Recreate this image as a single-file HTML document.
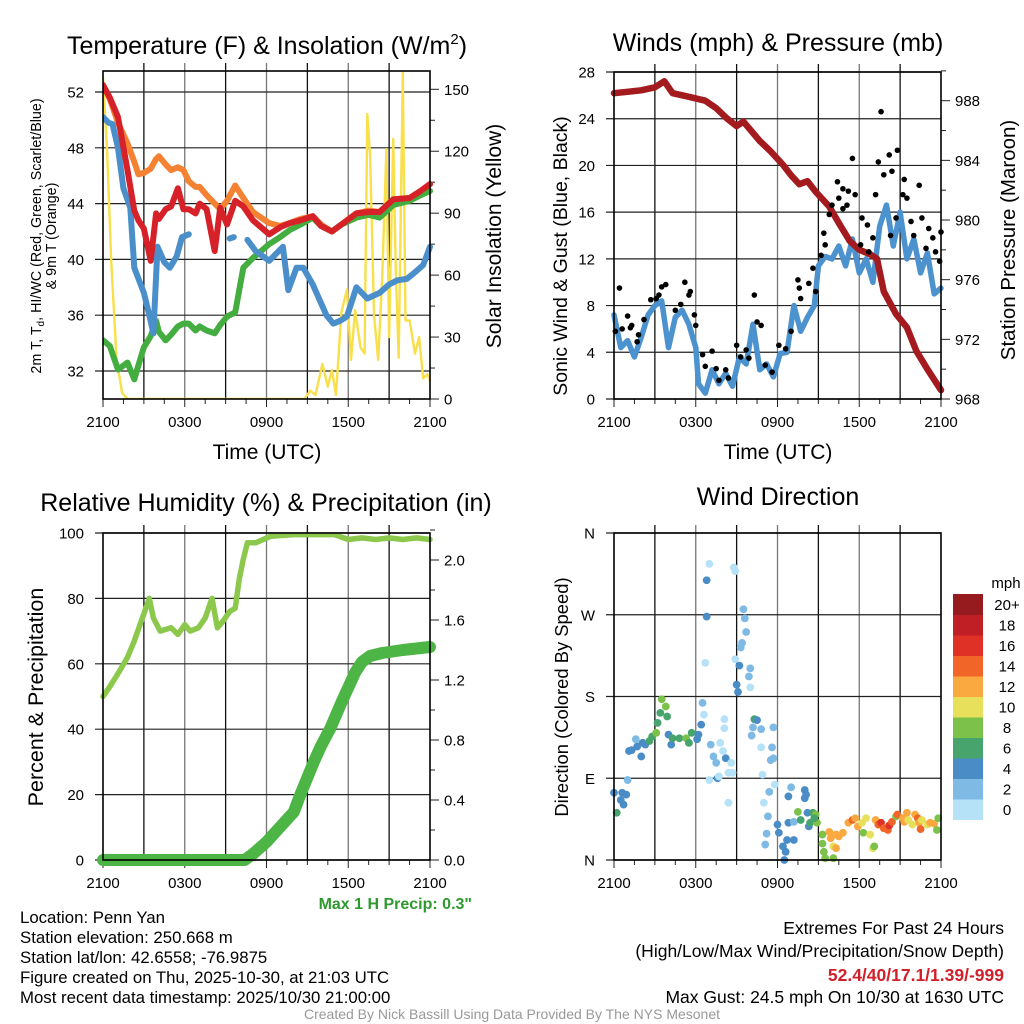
<!DOCTYPE html>
<html><head><meta charset="utf-8"><style>
html,body{margin:0;padding:0;background:#fff}
svg{display:block;font-family:"Liberation Sans",Arial,sans-serif}
</style></head><body>
<svg id="fig" width="1024" height="1024" viewBox="0 0 1024 1024" xmlns="http://www.w3.org/2000/svg">
<rect width="1024" height="1024" fill="#fff"/>
<g id="p1"></g>
<g id="p2"></g>
<g id="p3"></g>
<g id="p4"></g>

<text x="267" y="54" font-size="25" text-anchor="middle">Temperature (F) &amp; Insolation (W/m<tspan dy="-10" font-size="15">2</tspan><tspan dy="10">)</tspan></text>
<text x="778" y="51" font-size="25" text-anchor="middle">Winds (mph) &amp; Pressure (mb)</text>
<text x="266" y="511" font-size="25" text-anchor="middle">Relative Humidity (%) &amp; Precipitation (in)</text>
<text x="778" y="505" font-size="25" text-anchor="middle">Wind Direction</text>

<text x="267" y="459" font-size="21" text-anchor="middle">Time (UTC)</text>
<text x="778" y="459" font-size="21" text-anchor="middle">Time (UTC)</text>

<text transform="translate(41,236) rotate(-90)" font-size="14.3" text-anchor="middle">2m T, T<tspan dy="3" font-size="10">d</tspan><tspan dy="-3">, HI/WC (Red, Green, Scarlet/Blue)</tspan></text>
<text transform="translate(56,236) rotate(-90)" font-size="14.3" text-anchor="middle">&amp; 9m T (Orange)</text>
<text transform="translate(501,236) rotate(-90)" font-size="21" text-anchor="middle">Solar Insolation (Yellow)</text>
<text transform="translate(567,256) rotate(-90)" font-size="19.5" text-anchor="middle">Sonic Wind &amp; Gust (Blue, Black)</text>
<text transform="translate(1015,240) rotate(-90)" font-size="20.5" text-anchor="middle">Station Pressure (Maroon)</text>
<text transform="translate(43,697) rotate(-90)" font-size="21.5" text-anchor="middle">Percent &amp; Precipitation</text>
<text transform="translate(568,697) rotate(-90)" font-size="18.4" text-anchor="middle">Direction (Colored By Speed)</text>

<text x="472" y="909" font-size="16" font-weight="bold" fill="#2e9a2e" text-anchor="end">Max 1 H Precip: 0.3"</text>
<g font-size="16.8">
<text x="20" y="923">Location: Penn Yan</text>
<text x="20" y="943">Station elevation: 250.668 m</text>
<text x="20" y="963">Station lat/lon: 42.6558; -76.9875</text>
<text x="20" y="983">Figure created on Thu, 2025-10-30, at 21:03 UTC</text>
<text x="20" y="1003">Most recent data timestamp: 2025/10/30 21:00:00</text>
</g>
<g font-size="17.5" text-anchor="end">
<text x="1004" y="934">Extremes For Past 24 Hours</text>
<text x="1004" y="957">(High/Low/Max Wind/Precipitation/Snow Depth)</text>
<text x="1004" y="981" font-weight="bold" fill="#d0202a">52.4/40/17.1/1.39/-999</text>
<text x="1004" y="1003">Max Gust: 24.5 mph On 10/30 at 1630 UTC</text>
</g>
<text x="512" y="1019" font-size="14" fill="#999" text-anchor="middle">Created By Nick Bassill Using Data Provided By The NYS Mesonet</text>
</svg>
<script>
// ---------- data ----------
const xTickLabels = ["2100","0300","0900","1500","2100"];
// Panel 1: temperature (hours since 2100 UTC)
const tempHours = [0,0.5,1.1,1.8,2.3,2.6,3.0,3.5,3.9,4.1,4.6,5.0,5.5,5.9,6.3,6.8,7.1,7.6,8.2,8.6,9.1,9.7,10.3,11,12.2,13,13.7,14.5,15.4,16,16.8,17.5,18.6,19.5,20.3,21.3,22.5,23.3,24];
const orangeT = [52.5,51.5,49.8,48.3,47,46.1,46.2,46.5,47.2,47.4,46.8,46.4,46.6,46.4,45.6,45.2,45.2,44.6,44.0,43.6,44.2,45.3,44.4,43.4,42.6,42.4,42.6,42.9,43.1,42.5,42.0,42.5,43.3,43.5,43.4,44.3,44.4,44.9,45.4];
const redT = [52.5,51.6,50.2,46.4,43.5,42.8,42.2,39.9,43.3,42.9,43.6,43.8,45.1,43.6,43.6,43.3,44.0,43.6,40.6,43.7,42.5,44.2,43.8,42.8,41.8,42.3,42.6,42.8,43.1,42.4,42.0,42.5,43.3,43.4,43.4,44.3,44.4,44.9,45.4];
const greenT = [34.2,33.8,32.1,32.6,31.4,32.4,33.7,34.5,35.6,34.8,34.2,34.6,35.2,35.4,35.4,34.9,35.2,34.9,34.7,35.3,35.9,36.2,39.4,40.1,41.1,41.6,42.1,42.5,43.0,42.4,42.0,42.5,43.0,43.2,43.0,43.9,44.2,44.6,44.9];
const blueHours = [0,0.4,0.7,1.1,1.5,2,2.3,3,3.4,3.7,4.0,4.5,4.9,5.4,5.8,6.3,null,9.3,9.6,null,10.6,11.2,12.2,13.2,13.6,14.2,14.7,15.4,15.9,16.4,16.9,17.4,17.9,18.6,19.4,20.3,21,21.6,22.3,22.8,23.5,24];
const blueT = [50.2,49.8,49.7,48.0,45.1,43.7,39.4,37.6,36.0,34.7,40.9,39.8,39.4,40.2,41.6,41.8,null,41.5,41.6,null,41.4,40.6,39.9,40.9,37.8,39.4,39.4,38.2,37.1,36.0,35.4,35.6,35.9,38.0,37.2,37.6,38.2,38.5,38.6,39.0,39.6,40.9];
const insolHours = [0,0.3,0.6,1,1.4,1.8,14.8,15.2,15.6,16.1,16.5,16.8,17.1,17.5,17.9,18.2,18.5,18.9,19.2,19.4,19.6,19.9,20.2,20.5,20.8,21.0,21.3,21.5,21.7,22.0,22.2,22.5,22.9,23.2,23.5,23.8,24];
const insolVals = [156,120,67,19,3,0,0,4,2,17,6,14,2,42,53,19,43,25,22,138,118,40,19,60,121,30,126,60,20,158,38,38,22,30,10,12,9];
// Panel 2: winds & pressure
const windHours = [0,0.5,1,1.5,2,2.5,3,3.5,4,4.5,5,5.5,6,6.2,6.7,7.2,7.7,8.2,8.7,9.2,9.7,10.2,10.7,11.2,11.7,12.2,12.7,13.2,13.7,14.2,14.7,15,15.5,16,16.5,17,17.5,18,18.5,19,19.5,20,20.5,21,21.5,22,22.5,23,23.5,24];
const windSpd = [7.2,4.4,5.0,3.6,5.3,7.2,8.0,8.4,4.4,7.0,7.6,6.4,4.4,1.3,0.5,2.5,1.3,2.2,1.1,3.6,3.0,6.4,2.5,3.0,1.9,3.9,4.0,8.0,5.8,7.0,8.0,11.4,12.2,12.0,13.1,11.4,13.7,10.8,12.0,10.0,14.8,16.6,13.1,16.0,12.0,13.7,10.8,12.5,9.0,9.5];
const gustHours = [0.4,0.1,0.6,1.0,1.2,1.3,1.8,1.7,2.2,2.7,3.1,3.5,3.8,3.3,4.5,4.9,5.2,5.5,5.6,5.9,6.0,6.5,6.7,7.2,7.5,7.7,8.2,8.4,9.0,9.3,9.7,9.9,10.3,10.5,10.8,11.1,11.6,12.1,12.6,13.0,13.5,13.6,13.7,14.3,14.8,15.2,15.4,15.8,16.0,16.4,16.8,17.2,17.5,17.7,17.1,18.2,18.6,19.0,19.2,19.4,19.6,19.8,20.2,20.4,20.8,20.7,21.2,21.3,21.5,21.8,22.0,22.4,22.6,22.9,23.1,23.4,23.6,24.0,23.9,20.3,18.7,18.1,16.5,16.8,15.5,14.6];
const gustSpd = [9.5,5.8,6.0,7.1,6.1,6.3,5.5,4.9,6.8,8.5,8.6,9.6,9.8,8.9,7.6,8.1,10.0,8.9,9.2,7.2,6.3,3.8,2.8,4.1,2.6,1.6,2.5,1.8,4.6,3.6,4.2,3.5,8.9,6.6,6.3,2.9,2.3,4.6,4.3,5.8,10.2,9.5,8.6,9.9,9.2,12.3,14.2,15.8,16.6,18.6,18.0,17.8,20.6,17.5,16.6,15.5,14.9,13.8,17.5,20.3,24.6,19.2,20.9,19.5,21.3,15.5,17.5,18.8,17.2,15.2,14.0,18.3,15.5,12.9,14.6,13.8,12.6,14.3,11.8,14.0,12.6,13.2,17.2,16.3,13.2,11.2];
const presHours = [0,1,2,3,3.7,4.3,5.3,6.7,7.5,8.3,9.0,9.5,10.7,11.5,12.4,13.0,13.6,14.2,14.8,15.8,16.5,17.3,18.0,18.8,19.3,19.8,20.7,21.5,22.2,23.0,24];
const presVals = [988.5,988.6,988.7,988.9,989.3,988.5,988.3,988.0,987.5,986.8,986.3,986.6,985.3,984.6,983.7,983.0,982.4,982.6,981.9,980.9,979.8,978.6,978.0,977.7,977.4,975.2,973.7,972.8,971.2,970.0,968.6];
// Panel 3: RH & precip
const rhHours = [0,0.5,1.25,1.8,2.3,2.8,3.4,3.7,4.2,5,5.5,6,6.4,7,7.5,8,8.4,8.8,9.3,9.7,10,10.3,10.6,11.2,12.3,14,16,17,18,19,20,21,22,23,24];
const rhVals = [50,53,58,62,67,73,80,74,70,71,69,72,70,71,74,80,71,73,76,77,86,92,97,97,99,99.5,99.5,99.5,98,98.5,98,98.5,98,98.5,98];
const pcpHours = [0,5,8,10.4,11,11.5,12,13,14,14.5,15,15.5,16,16.7,17.5,18,18.5,19,19.6,20.5,22,24];
const pcpVals = [0,0,0,0,0.04,0.08,0.12,0.22,0.32,0.44,0.55,0.66,0.76,0.88,1.05,1.15,1.25,1.32,1.36,1.38,1.40,1.42];
// Panel 4: direction
const dirHours = [0.0,0.2,0.5,0.7,0.6,0.9,1.0,1.1,1.3,1.7,2.1,2.3,2.0,1.6,2.6,2.8,3.1,3.2,3.4,3.5,3.8,3.9,4.0,4.2,4.3,4.8,5.3,5.5,5.7,6.1,6.2,6.4,6.6,6.5,6.7,6.8,6.8,7.0,7.1,7.3,7.5,7.6,7.0,7.7,7.8,8.0,8.1,8.1,8.2,8.4,8.7,8.4,8.6,8.8,8.9,8.9,9.0,9.1,9.2,9.3,9.4,9.5,9.6,9.7,9.9,10.0,10.0,10.3,10.5,10.2,10.8,10.1,11.7,10.8,11.6,11.5,11.7,10.9,11.8,11.4,11.0,11.3,11.2,11.1,12.0,12.1,12.4,12.6,12.5,12.7,13.2,12.8,13.0,12.8,14.0,14.1,14.0,14.2,14.3,13.2,13.5,13.7,14.6,14.8,14.4,14.9,14.7,15.3,15.4,15.5,16.1,15.3,15.8,15.9,16.3,16.5,16.8,17.2,17.5,17.9,17.7,18.2,18.5,18.3,18.8,19.0,19.1,19.2,19.4,19.6,19.8,20.1,20.2,20.4,20.7,20.8,21.2,21.3,21.5,21.6,21.9,22.1,22.3,22.4,22.5,22.6,23.0,23.2,23.5,23.7,23.8,16.1,16.3];
const dirVals = [74,52,66,61,74,72,88,120,121,125,129,127,114,133,131,136,140,151,162,177,169,158,138,127,134,134,134,129,140,133,138,149,160,173,217,268,308,326,127,114,107,90,88,92,129,120,155,145,112,96,96,63,107,322,318,221,193,185,214,234,239,276,266,251,202,211,190,155,154,146,144,137,146,124,124,110,112,94,83,75,63,48,29,17,39,30,15,9,0,22,22,41,80,70,77,72,68,52,37,42,53,44,52,50,41,41,46,28,9,2,2,18,31,24,28,26,30,41,44,37,46,41,46,30,28,13,15,44,39,41,35,33,38,42,48,50,46,42,52,44,39,50,46,41,34,44,39,41,40,33,46,15,13];
const dirSpeeds = [4,6,4,4,4,4,2,4,4,4,4,4,4,2,6,6,8,6,6,8,8,6,4,4,6,6,8,6,6,4,4,4,0,2,0,4,4,0,2,2,2,4,0,0,0,0,0,0,4,0,0,0,0,0,0,0,4,4,4,2,2,2,2,2,2,2,0,6,4,2,2,2,2,0,2,2,2,0,0,2,0,2,2,2,4,4,4,4,4,4,4,4,2,4,4,4,4,4,4,2,8,6,6,8,6,8,6,8,8,8,8,8,12,12,12,12,12,12,14,12,12,10,10,8,10,10,8,12,14,16,14,14,16,14,8,14,12,12,12,10,10,12,14,12,14,10,10,12,12,8,8,10,12];
const speedBins = [0,2,4,6,8,10,12,14,16,18,20];
const speedLabels = ["0","2","4","6","8","10","12","14","16","18","20+"];
const speedColors = ["#b5e2f7","#7ebae4","#4a8dc6","#47a46c","#7cc24a","#e6e05a","#f9a940","#f26528","#e03127","#c11f26","#961b1e"];

// ---------- helpers ----------
const NS="http://www.w3.org/2000/svg";
function mk(parent,tag,attrs){const e=document.createElementNS(NS,tag);for(const k in attrs)e.setAttribute(k,attrs[k]);parent.appendChild(e);return e;}
function lin(d0,d1,r0,r1){return v=>r0+(v-d0)*(r1-r0)/(d1-d0);}
function pathFrom(xs,ys,sx,sy){let d="",pen=false;for(let i=0;i<xs.length;i++){if(xs[i]===null||ys[i]===null){pen=false;continue;}d+=(pen?"L":"M")+sx(xs[i]).toFixed(1)+","+sy(ys[i]).toFixed(1);pen=true;}return d;}

function frame(g,L,T,R,B,yTicksL,syL,fmtL,yTicksR,syR,fmtR,minorR,namePrefix){
  const sx=lin(0,24,L,R);
  for(let h=3;h<24;h+=3){const x=sx(h);const l=mk(g,"line",{x1:x,x2:x,y1:T-8,y2:B,stroke:(h%6===0)?"#777":"#111","stroke-width":1.3});
    
    }
  for(let h=0;h<=24;h+=1.5){const x=sx(h);mk(g,"line",{x1:x,x2:x,y1:B,y2:B+(h%6===0?8:5),stroke:"#222","stroke-width":1});}
  yTicksL.forEach(v=>{const y=syL(v);const l=mk(g,"line",{x1:L-8,x2:R,y1:y,y2:y,stroke:"#222","stroke-width":1.2});
    
    
    const t=mk(g,"text",{x:L-19,y:y+5.5,"font-size":15,"text-anchor":"end"});t.textContent=fmtL(v);
    
    });
  if(yTicksR){yTicksR.forEach(v=>{const y=syR(v);mk(g,"line",{x1:R,x2:R+9,y1:y,y2:y,stroke:"#222","stroke-width":1});
    const t=mk(g,"text",{x:R+14,y:y+5.5,"font-size":15});t.textContent=fmtR(v);
    
    });
    minorR.forEach(v=>{const y=syR(v);mk(g,"line",{x1:R,x2:R+5,y1:y,y2:y,stroke:"#222","stroke-width":1});});}
  xTickLabels.forEach((s,i)=>{const t=mk(g,"text",{x:sx(i*6),y:B+28,"font-size":15,"text-anchor":"middle"});t.textContent=s;
    
    });
  return sx;
}
function border(g,L,T,R,B,name){const r=mk(g,"rect",{x:L,y:T,width:R-L,height:B-T,fill:"none",stroke:"#000","stroke-width":1.6});
  
  }
function line(g,xs,ys,sx,sy,color,w,name){const p=mk(g,"path",{d:pathFrom(xs,ys,sx,sy),fill:"none",stroke:color,"stroke-width":w,"stroke-linejoin":"round","stroke-linecap":"round"});
  
  return p;}

// ---------- panel 1 ----------
(function(){const g=document.getElementById("p1");const L=103,T=71,R=430,B=399;
  const syT=lin(32,52,371,92), syS=lin(0,150,399,89.3);
  const sx=frame(g,L,T,R,B,[32,36,40,44,48,52],syT,v=>v,[0,30,60,90,120,150],syS,v=>v,[15,45,75,105,135],"temp");
  const clip=mk(g,"clipPath",{id:"c1"});mk(clip,"rect",{x:L,y:T-4,width:R-L+4,height:B-T+4});
  const d=mk(g,"g",{"clip-path":"url(#c1)"});
  line(d,insolHours,insolVals,sx,syS,"#f9df4a",2.4,"insolation-line");
  line(d,tempHours,orangeT,sx,syT,"#f58233",6,"temp-9m-orange-line");
  line(d,tempHours,greenT,sx,syT,"#44ad3f",6,"dewpoint-green-line");
  line(d,blueHours,blueT,sx,syT,"#4a8fc9",6,"windchill-blue-line");
  line(d,tempHours,redT,sx,syT,"#d62128",6,"temp-2m-red-line");
  border(g,L,T,R,B,"temperature-plot-area");})();

// ---------- panel 2 ----------
(function(){const g=document.getElementById("p2");const L=614,T=72,R=941,B=399;
  const syW=lin(0,28,399,72), syP=lin(968,988,399,100.7);
  const sx=frame(g,L,T,R,B,[0,4,8,12,16,20,24,28],syW,v=>v,[968,972,976,980,984,988],syP,v=>v,[970,974,978,982,986,990],"wind");
  const clip=mk(g,"clipPath",{id:"c2"});mk(clip,"rect",{x:L-4,y:T,width:R-L+8,height:B-T+4});
  const d=mk(g,"g",{"clip-path":"url(#c2)"});
  line(d,windHours,windSpd,sx,syW,"#4b92cf",5.5,"sonic-wind-line");
  line(d,presHours,presVals,sx,syP,"#a31b1f",6.5,"pressure-line");
  gustHours.forEach((h,i)=>{const c=mk(d,"circle",{cx:sx(h),cy:syW(gustSpd[i]),r:2.8,fill:"#000"});
    
    });
  border(g,L,T,R,B,"winds-plot-area");})();

// ---------- panel 3 ----------
(function(){const g=document.getElementById("p3");const L=103,T=533,R=430,B=860;
  const syR=lin(0,100,860,533), syP=lin(0,2,860,560);
  const sx=frame(g,L,T,R,B,[0,20,40,60,80,100],syR,v=>v,[0,0.4,0.8,1.2,1.6,2.0],syP,v=>v.toFixed(1),[0.2,0.6,1.0,1.4,1.8,2.2],"rh");
  const clip=mk(g,"clipPath",{id:"c3"});mk(clip,"rect",{x:L-6,y:T,width:R-L+12,height:B-T+6});
  const d=mk(g,"g",{"clip-path":"url(#c3)"});
  line(d,rhHours,rhVals,sx,syR,"#8cc84b",5.5,"relative-humidity-line");
  line(d,pcpHours,pcpVals,sx,syP,"#4cb545",12,"precipitation-line");
  border(g,L,T,R,B,"humidity-plot-area");})();

// ---------- panel 4 ----------
(function(){const g=document.getElementById("p4");const L=614,T=533,R=941,B=860;
  const syD=lin(0,360,860,533);
  const sx=frame(g,L,T,R,B,[0,90,180,270,360],syD,v=>["N","E","S","W","N"][v/90],null,null,null,[],"dir");
  const d=mk(g,"g",{});
  dirHours.forEach((h,i)=>{const k=speedBins.indexOf(dirSpeeds[i]);const c=mk(d,"circle",{cx:sx(h),cy:syD(dirVals[i]),r:3.9,fill:speedColors[k]});
    
    });
  border(g,L,T,R,B,"direction-plot-area");
  const cb=mk(g,"g",{});
  
  
  const t=mk(cb,"text",{x:1006,y:588,"font-size":15,"text-anchor":"middle"});t.textContent="mph";
  
  
  const top=594,h=20.5;
  speedColors.forEach((c,i)=>{const y=top+(10-i)*h;const r=mk(cb,"rect",{x:953,y:y,width:30,height:h+0.5,fill:c});
    
    
    const l=mk(cb,"text",{x:1007,y:y+h/2+5.5,"font-size":15,"text-anchor":"middle"});l.textContent=speedLabels[i];
    
    });})();
</script>
</body></html>
